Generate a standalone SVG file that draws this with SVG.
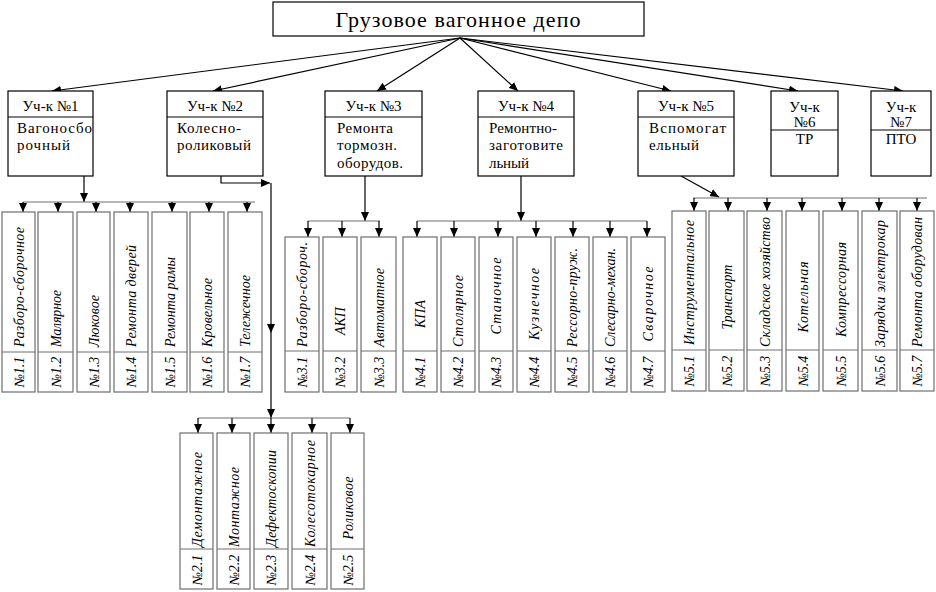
<svg xmlns="http://www.w3.org/2000/svg" width="936" height="592" viewBox="0 0 936 592">
<style>
.nodebox{fill:#fff;stroke:#000;stroke-width:1.2}
.nodediv{stroke:#000;stroke-width:1}
.subbox{fill:#fff;stroke:#6e6e6e;stroke-width:1.2}
.subdiv{stroke:#6e6e6e;stroke-width:1}
.branch{fill:none;stroke:#6e6e6e;stroke-width:1.2}
.arrow{fill:none;stroke:#000;stroke-width:1.2;marker-end:url(#ah)}
</style>
<defs>
<marker id="ah" markerUnits="userSpaceOnUse" markerWidth="9" markerHeight="8" refX="9" refY="4" orient="auto">
<path d="M0,0 L9,4 L0,8 z" fill="#000"/>
</marker>
</defs>
<g id="root">
<rect class="nodebox" x="273" y="2" width="371" height="34"/>
<text style="font-family:'Liberation Serif',serif;font-size:22px;text-anchor:middle" x="458" y="27" textLength="245">Грузовое вагонное депо</text>
</g>

<g id="connectors">
<line class="arrow" x1="460" y1="38" x2="52" y2="91"/>
<line class="arrow" x1="460" y1="38" x2="213" y2="91"/>
<line class="arrow" x1="460" y1="38" x2="377" y2="91"/>
<line class="arrow" x1="460" y1="38" x2="518" y2="91"/>
<line class="arrow" x1="460" y1="38" x2="671" y2="91"/>
<line class="arrow" x1="460" y1="38" x2="798" y2="91"/>
<line class="arrow" x1="460" y1="38" x2="903" y2="91"/>
<line class="arrow" x1="84" y1="176" x2="84" y2="202"/>
<line class="branch" x1="23" y1="202" x2="255" y2="202"/>
<line class="arrow" x1="23" y1="202" x2="23" y2="212"/>
<line class="arrow" x1="58" y1="202" x2="58" y2="212"/>
<line class="arrow" x1="96" y1="202" x2="96" y2="212"/>
<line class="arrow" x1="130" y1="202" x2="130" y2="212"/>
<line class="arrow" x1="172" y1="202" x2="172" y2="212"/>
<line class="arrow" x1="209" y1="202" x2="209" y2="212"/>
<line class="arrow" x1="247" y1="202" x2="247" y2="212"/>
<path class="arrow" d="M221,176 V183 H270"/>
<line class="arrow" x1="271" y1="183" x2="271" y2="333"/>
<line class="arrow" x1="271" y1="333" x2="271" y2="418"/>
<line class="branch" x1="198" y1="418" x2="350" y2="418"/>
<line class="arrow" x1="198" y1="418" x2="198" y2="433"/>
<line class="arrow" x1="232" y1="418" x2="232" y2="433"/>
<line class="arrow" x1="271" y1="418" x2="271" y2="433"/>
<line class="arrow" x1="312" y1="418" x2="312" y2="433"/>
<line class="arrow" x1="350" y1="418" x2="350" y2="433"/>
<line class="arrow" x1="365" y1="176" x2="365" y2="221"/>
<line class="branch" x1="308" y1="221" x2="380" y2="221"/>
<line class="arrow" x1="308" y1="221" x2="308" y2="237"/>
<line class="arrow" x1="342" y1="221" x2="342" y2="237"/>
<line class="arrow" x1="379" y1="221" x2="379" y2="237"/>
<line class="arrow" x1="521" y1="176" x2="521" y2="221"/>
<line class="branch" x1="417" y1="221" x2="647" y2="221"/>
<line class="arrow" x1="417" y1="221" x2="417" y2="237"/>
<line class="arrow" x1="454" y1="221" x2="454" y2="237"/>
<line class="arrow" x1="498" y1="221" x2="498" y2="237"/>
<line class="arrow" x1="536" y1="221" x2="536" y2="237"/>
<line class="arrow" x1="573" y1="221" x2="573" y2="237"/>
<line class="arrow" x1="610" y1="221" x2="610" y2="237"/>
<line class="arrow" x1="647" y1="221" x2="647" y2="237"/>
<line class="arrow" x1="681" y1="176" x2="719" y2="197"/>
<line class="branch" x1="693" y1="198" x2="927" y2="198"/>
<line class="arrow" x1="694" y1="198" x2="694" y2="211"/>
<line class="arrow" x1="728" y1="198" x2="728" y2="211"/>
<line class="arrow" x1="767" y1="198" x2="767" y2="211"/>
<line class="arrow" x1="802" y1="198" x2="802" y2="211"/>
<line class="arrow" x1="842" y1="198" x2="842" y2="211"/>
<line class="arrow" x1="879" y1="198" x2="879" y2="211"/>
<line class="arrow" x1="917" y1="198" x2="917" y2="211"/>
</g>

<g id="u1">
<rect class="nodebox" x="8" y="91" width="85" height="85"/>
<line class="nodediv" x1="8" y1="117" x2="93" y2="117"/>
<text style="font-family:'Liberation Serif',serif;font-size:15px;text-anchor:middle" x="50.5" y="111">Уч-к №1</text>
<text style="font-family:'Liberation Serif',serif;font-size:15px" x="17" y="133" textLength="75">Вагоносбо</text>
<text style="font-family:'Liberation Serif',serif;font-size:15px" x="17" y="150" textLength="53">рочный</text>
</g>
<g id="u2">
<rect class="nodebox" x="167" y="91" width="96" height="85"/>
<line class="nodediv" x1="167" y1="117" x2="263" y2="117"/>
<text style="font-family:'Liberation Serif',serif;font-size:15px;text-anchor:middle" x="215" y="111">Уч-к №2</text>
<text style="font-family:'Liberation Serif',serif;font-size:15px" x="177" y="133" textLength="64">Колесно-</text>
<text style="font-family:'Liberation Serif',serif;font-size:15px" x="177" y="150" textLength="74">роликовый</text>
</g>
<g id="u3">
<rect class="nodebox" x="325" y="91" width="97" height="85"/>
<line class="nodediv" x1="325" y1="117" x2="422" y2="117"/>
<text style="font-family:'Liberation Serif',serif;font-size:15px;text-anchor:middle" x="373.5" y="111">Уч-к №3</text>
<text style="font-family:'Liberation Serif',serif;font-size:15px" x="337" y="133" textLength="56">Ремонта</text>
<text style="font-family:'Liberation Serif',serif;font-size:15px" x="337" y="150" textLength="60">тормозн.</text>
<text style="font-family:'Liberation Serif',serif;font-size:15px" x="337" y="168" textLength="66">оборудов.</text>
</g>
<g id="u4">
<rect class="nodebox" x="478" y="91" width="96" height="85"/>
<line class="nodediv" x1="478" y1="117" x2="574" y2="117"/>
<text style="font-family:'Liberation Serif',serif;font-size:15px;text-anchor:middle" x="526" y="111">Уч-к №4</text>
<text style="font-family:'Liberation Serif',serif;font-size:15px" x="489" y="133" textLength="68">Ремонтно-</text>
<text style="font-family:'Liberation Serif',serif;font-size:15px" x="489" y="150" textLength="74">заготовите</text>
<text style="font-family:'Liberation Serif',serif;font-size:15px" x="489" y="168" textLength="40">льный</text>
</g>
<g id="u5">
<rect class="nodebox" x="638" y="91" width="96" height="85"/>
<line class="nodediv" x1="638" y1="117" x2="734" y2="117"/>
<text style="font-family:'Liberation Serif',serif;font-size:15px;text-anchor:middle" x="686" y="111">Уч-к №5</text>
<text style="font-family:'Liberation Serif',serif;font-size:15px" x="649" y="133" textLength="77">Вспомогат</text>
<text style="font-family:'Liberation Serif',serif;font-size:15px" x="649" y="150" textLength="50">ельный</text>
</g>
<g id="u6">
<rect class="nodebox" x="771" y="91" width="67" height="85"/>
<line class="nodediv" x1="771" y1="130" x2="838" y2="130"/>
<text style="font-family:'Liberation Serif',serif;font-size:15px;text-anchor:middle" x="804.5" y="112">Уч-к</text>
<text style="font-family:'Liberation Serif',serif;font-size:15px;text-anchor:middle" x="804.5" y="127">№6</text>
<text style="font-family:'Liberation Serif',serif;font-size:15px;text-anchor:middle" x="804.5" y="144">ТР</text>
</g>
<g id="u7">
<rect class="nodebox" x="871" y="91" width="60" height="85"/>
<line class="nodediv" x1="871" y1="130" x2="931" y2="130"/>
<text style="font-family:'Liberation Serif',serif;font-size:15px;text-anchor:middle" x="901" y="112">Уч-к</text>
<text style="font-family:'Liberation Serif',serif;font-size:15px;text-anchor:middle" x="901" y="127">№7</text>
<text style="font-family:'Liberation Serif',serif;font-size:15px;text-anchor:middle" x="901" y="144">ПТО</text>
</g>

<g id="s1-1"><rect class="subbox" x="2" y="212" width="33" height="180"/><line class="subdiv" x1="2" y1="352" x2="35" y2="352"/>
<text style="font-family:'Liberation Serif',serif;font-size:14px;font-style:italic" transform="translate(23.5,347) rotate(-90)" textLength="120">Разборо-сборочное</text>
<text style="font-family:'Liberation Serif',serif;font-size:14px;font-style:italic;text-anchor:middle" transform="translate(23.5,372) rotate(-90)">№1.1</text></g>
<g id="s1-2"><rect class="subbox" x="38" y="212" width="35" height="180"/><line class="subdiv" x1="38" y1="352" x2="73" y2="352"/>
<text style="font-family:'Liberation Serif',serif;font-size:14px;font-style:italic" transform="translate(60.5,347) rotate(-90)" textLength="57">Малярное</text>
<text style="font-family:'Liberation Serif',serif;font-size:14px;font-style:italic;text-anchor:middle" transform="translate(60.5,372) rotate(-90)">№1.2</text></g>
<g id="s1-3"><rect class="subbox" x="77" y="212" width="33" height="180"/><line class="subdiv" x1="77" y1="352" x2="110" y2="352"/>
<text style="font-family:'Liberation Serif',serif;font-size:14px;font-style:italic" transform="translate(98.5,347) rotate(-90)" textLength="52">Люковое</text>
<text style="font-family:'Liberation Serif',serif;font-size:14px;font-style:italic;text-anchor:middle" transform="translate(98.5,372) rotate(-90)">№1.3</text></g>
<g id="s1-4"><rect class="subbox" x="114" y="212" width="34" height="180"/><line class="subdiv" x1="114" y1="352" x2="148" y2="352"/>
<text style="font-family:'Liberation Serif',serif;font-size:14px;font-style:italic" transform="translate(136,347) rotate(-90)" textLength="102">Ремонта дверей</text>
<text style="font-family:'Liberation Serif',serif;font-size:14px;font-style:italic;text-anchor:middle" transform="translate(136,372) rotate(-90)">№1.4</text></g>
<g id="s1-5"><rect class="subbox" x="152" y="212" width="35" height="180"/><line class="subdiv" x1="152" y1="352" x2="187" y2="352"/>
<text style="font-family:'Liberation Serif',serif;font-size:14px;font-style:italic" transform="translate(174.5,347) rotate(-90)" textLength="90">Ремонта рамы</text>
<text style="font-family:'Liberation Serif',serif;font-size:14px;font-style:italic;text-anchor:middle" transform="translate(174.5,372) rotate(-90)">№1.5</text></g>
<g id="s1-6"><rect class="subbox" x="190" y="212" width="34" height="180"/><line class="subdiv" x1="190" y1="352" x2="224" y2="352"/>
<text style="font-family:'Liberation Serif',serif;font-size:14px;font-style:italic" transform="translate(212,347) rotate(-90)" textLength="69">Кровельное</text>
<text style="font-family:'Liberation Serif',serif;font-size:14px;font-style:italic;text-anchor:middle" transform="translate(212,372) rotate(-90)">№1.6</text></g>
<g id="s1-7"><rect class="subbox" x="228" y="212" width="34" height="180"/><line class="subdiv" x1="228" y1="352" x2="262" y2="352"/>
<text style="font-family:'Liberation Serif',serif;font-size:14px;font-style:italic" transform="translate(250,347) rotate(-90)" textLength="72">Тележечное</text>
<text style="font-family:'Liberation Serif',serif;font-size:14px;font-style:italic;text-anchor:middle" transform="translate(250,372) rotate(-90)">№1.7</text></g>

<g id="s2-1"><rect class="subbox" x="180" y="433" width="33" height="156"/><line class="subdiv" x1="180" y1="549" x2="213" y2="549"/>
<text style="font-family:'Liberation Serif',serif;font-size:14px;font-style:italic" transform="translate(201.5,547) rotate(-90)" textLength="95">Демонтажное</text>
<text style="font-family:'Liberation Serif',serif;font-size:14px;font-style:italic;text-anchor:middle" transform="translate(201.5,570) rotate(-90)">№2.1</text></g>
<g id="s2-2"><rect class="subbox" x="217" y="433" width="33" height="156"/><line class="subdiv" x1="217" y1="549" x2="250" y2="549"/>
<text style="font-family:'Liberation Serif',serif;font-size:14px;font-style:italic" transform="translate(238.5,547) rotate(-90)" textLength="80">Монтажное</text>
<text style="font-family:'Liberation Serif',serif;font-size:14px;font-style:italic;text-anchor:middle" transform="translate(238.5,570) rotate(-90)">№2.2</text></g>
<g id="s2-3"><rect class="subbox" x="254" y="433" width="34" height="156"/><line class="subdiv" x1="254" y1="549" x2="288" y2="549"/>
<text style="font-family:'Liberation Serif',serif;font-size:14px;font-style:italic" transform="translate(276,547) rotate(-90)" textLength="97">Дефектоскопии</text>
<text style="font-family:'Liberation Serif',serif;font-size:14px;font-style:italic;text-anchor:middle" transform="translate(276,570) rotate(-90)">№2.3</text></g>
<g id="s2-4"><rect class="subbox" x="292" y="433" width="35" height="156"/><line class="subdiv" x1="292" y1="549" x2="327" y2="549"/>
<text style="font-family:'Liberation Serif',serif;font-size:14px;font-style:italic" transform="translate(314.5,547) rotate(-90)" textLength="107">Колесотокарное</text>
<text style="font-family:'Liberation Serif',serif;font-size:14px;font-style:italic;text-anchor:middle" transform="translate(314.5,570) rotate(-90)">№2.4</text></g>
<g id="s2-5"><rect class="subbox" x="331" y="433" width="33" height="156"/><line class="subdiv" x1="331" y1="549" x2="364" y2="549"/>
<text style="font-family:'Liberation Serif',serif;font-size:14px;font-style:italic;text-anchor:middle" transform="translate(352.5,508) rotate(-90)" textLength="63">Роликовое</text>
<text style="font-family:'Liberation Serif',serif;font-size:14px;font-style:italic;text-anchor:middle" transform="translate(352.5,570) rotate(-90)">№2.5</text></g>

<g id="s3-1"><rect class="subbox" x="285" y="237" width="34" height="155"/><line class="subdiv" x1="285" y1="351" x2="319" y2="351"/>
<text style="font-family:'Liberation Serif',serif;font-size:14px;font-style:italic" transform="translate(307,347) rotate(-90)" textLength="105">Разборо-сбороч.</text>
<text style="font-family:'Liberation Serif',serif;font-size:14px;font-style:italic;text-anchor:middle" transform="translate(307,372) rotate(-90)">№3.1</text></g>
<g id="s3-2"><rect class="subbox" x="323" y="237" width="34" height="155"/><line class="subdiv" x1="323" y1="351" x2="357" y2="351"/>
<text style="font-family:'Liberation Serif',serif;font-size:14px;font-style:italic;text-anchor:middle" transform="translate(345,321) rotate(-90)">АКП</text>
<text style="font-family:'Liberation Serif',serif;font-size:14px;font-style:italic;text-anchor:middle" transform="translate(345,372) rotate(-90)">№3.2</text></g>
<g id="s3-3"><rect class="subbox" x="361" y="237" width="35" height="155"/><line class="subdiv" x1="361" y1="351" x2="396" y2="351"/>
<text style="font-family:'Liberation Serif',serif;font-size:14px;font-style:italic" transform="translate(383.5,347) rotate(-90)" textLength="79">Автоматное</text>
<text style="font-family:'Liberation Serif',serif;font-size:14px;font-style:italic;text-anchor:middle" transform="translate(383.5,372) rotate(-90)">№3.3</text></g>

<g id="s4-1"><rect class="subbox" x="403" y="237" width="34" height="155"/><line class="subdiv" x1="403" y1="351" x2="437" y2="351"/>
<text style="font-family:'Liberation Serif',serif;font-size:14px;font-style:italic;text-anchor:middle" transform="translate(425,314) rotate(-90)">КПА</text>
<text style="font-family:'Liberation Serif',serif;font-size:14px;font-style:italic;text-anchor:middle" transform="translate(425,372) rotate(-90)">№4.1</text></g>
<g id="s4-2"><rect class="subbox" x="441" y="237" width="34" height="155"/><line class="subdiv" x1="441" y1="351" x2="475" y2="351"/>
<text style="font-family:'Liberation Serif',serif;font-size:14px;font-style:italic" transform="translate(463,347) rotate(-90)" textLength="72">Столярное</text>
<text style="font-family:'Liberation Serif',serif;font-size:14px;font-style:italic;text-anchor:middle" transform="translate(463,372) rotate(-90)">№4.2</text></g>
<g id="s4-3"><rect class="subbox" x="479" y="237" width="34" height="155"/><line class="subdiv" x1="479" y1="351" x2="513" y2="351"/>
<text style="font-family:'Liberation Serif',serif;font-size:14px;font-style:italic;text-anchor:middle" transform="translate(501,296) rotate(-90)" textLength="77">Станочное</text>
<text style="font-family:'Liberation Serif',serif;font-size:14px;font-style:italic;text-anchor:middle" transform="translate(501,372) rotate(-90)">№4.3</text></g>
<g id="s4-4"><rect class="subbox" x="517" y="237" width="34" height="155"/><line class="subdiv" x1="517" y1="351" x2="551" y2="351"/>
<text style="font-family:'Liberation Serif',serif;font-size:14px;font-style:italic;text-anchor:middle" transform="translate(539,304) rotate(-90)" textLength="72">Кузнечное</text>
<text style="font-family:'Liberation Serif',serif;font-size:14px;font-style:italic;text-anchor:middle" transform="translate(539,372) rotate(-90)">№4.4</text></g>
<g id="s4-5"><rect class="subbox" x="555" y="237" width="34" height="155"/><line class="subdiv" x1="555" y1="351" x2="589" y2="351"/>
<text style="font-family:'Liberation Serif',serif;font-size:14px;font-style:italic" transform="translate(577,347) rotate(-90)" textLength="99">Рессорно-пруж.</text>
<text style="font-family:'Liberation Serif',serif;font-size:14px;font-style:italic;text-anchor:middle" transform="translate(577,372) rotate(-90)">№4.5</text></g>
<g id="s4-6"><rect class="subbox" x="593" y="237" width="34" height="155"/><line class="subdiv" x1="593" y1="351" x2="627" y2="351"/>
<text style="font-family:'Liberation Serif',serif;font-size:14px;font-style:italic" transform="translate(615,347) rotate(-90)" textLength="99">Слесарно-механ.</text>
<text style="font-family:'Liberation Serif',serif;font-size:14px;font-style:italic;text-anchor:middle" transform="translate(615,372) rotate(-90)">№4.6</text></g>
<g id="s4-7"><rect class="subbox" x="631" y="237" width="34" height="155"/><line class="subdiv" x1="631" y1="351" x2="665" y2="351"/>
<text style="font-family:'Liberation Serif',serif;font-size:14px;font-style:italic;text-anchor:middle" transform="translate(653,304) rotate(-90)" textLength="75">Сварочное</text>
<text style="font-family:'Liberation Serif',serif;font-size:14px;font-style:italic;text-anchor:middle" transform="translate(653,372) rotate(-90)">№4.7</text></g>

<g id="s5-1"><rect class="subbox" x="672" y="211" width="34" height="180"/><line class="subdiv" x1="672" y1="350" x2="706" y2="350"/>
<text style="font-family:'Liberation Serif',serif;font-size:14px;font-style:italic" transform="translate(694,345) rotate(-90)" textLength="125">Инструментальное</text>
<text style="font-family:'Liberation Serif',serif;font-size:14px;font-style:italic;text-anchor:middle" transform="translate(694,371) rotate(-90)">№5.1</text></g>
<g id="s5-2"><rect class="subbox" x="709" y="211" width="35" height="180"/><line class="subdiv" x1="709" y1="350" x2="744" y2="350"/>
<text style="font-family:'Liberation Serif',serif;font-size:14px;font-style:italic;text-anchor:middle" transform="translate(731.5,297) rotate(-90)" textLength="65">Транспорт</text>
<text style="font-family:'Liberation Serif',serif;font-size:14px;font-style:italic;text-anchor:middle" transform="translate(731.5,371) rotate(-90)">№5.2</text></g>
<g id="s5-3"><rect class="subbox" x="747" y="211" width="35" height="180"/><line class="subdiv" x1="747" y1="350" x2="782" y2="350"/>
<text style="font-family:'Liberation Serif',serif;font-size:14px;font-style:italic" transform="translate(769.5,347) rotate(-90)" textLength="130">Складское хозяйство</text>
<text style="font-family:'Liberation Serif',serif;font-size:14px;font-style:italic;text-anchor:middle" transform="translate(769.5,371) rotate(-90)">№5.3</text></g>
<g id="s5-4"><rect class="subbox" x="786" y="211" width="33" height="180"/><line class="subdiv" x1="786" y1="350" x2="819" y2="350"/>
<text style="font-family:'Liberation Serif',serif;font-size:14px;font-style:italic;text-anchor:middle" transform="translate(807.5,297) rotate(-90)" textLength="71">Котельная</text>
<text style="font-family:'Liberation Serif',serif;font-size:14px;font-style:italic;text-anchor:middle" transform="translate(807.5,371) rotate(-90)">№5.4</text></g>
<g id="s5-5"><rect class="subbox" x="823" y="211" width="35" height="180"/><line class="subdiv" x1="823" y1="350" x2="858" y2="350"/>
<text style="font-family:'Liberation Serif',serif;font-size:14px;font-style:italic" transform="translate(845.5,337) rotate(-90)" textLength="95">Компрессорная</text>
<text style="font-family:'Liberation Serif',serif;font-size:14px;font-style:italic;text-anchor:middle" transform="translate(845.5,371) rotate(-90)">№5.5</text></g>
<g id="s5-6"><rect class="subbox" x="862" y="211" width="35" height="180"/><line class="subdiv" x1="862" y1="350" x2="897" y2="350"/>
<text style="font-family:'Liberation Serif',serif;font-size:14px;font-style:italic" transform="translate(884.5,347) rotate(-90)" textLength="127">Зарядки электрокар</text>
<text style="font-family:'Liberation Serif',serif;font-size:14px;font-style:italic;text-anchor:middle" transform="translate(884.5,371) rotate(-90)">№5.6</text></g>
<g id="s5-7"><rect class="subbox" x="900" y="211" width="34" height="180"/><line class="subdiv" x1="900" y1="350" x2="934" y2="350"/>
<text style="font-family:'Liberation Serif',serif;font-size:14px;font-style:italic" transform="translate(922,347) rotate(-90)" textLength="130">Ремонта оборудован</text>
<text style="font-family:'Liberation Serif',serif;font-size:14px;font-style:italic;text-anchor:middle" transform="translate(922,371) rotate(-90)">№5.7</text></g>
</svg>
